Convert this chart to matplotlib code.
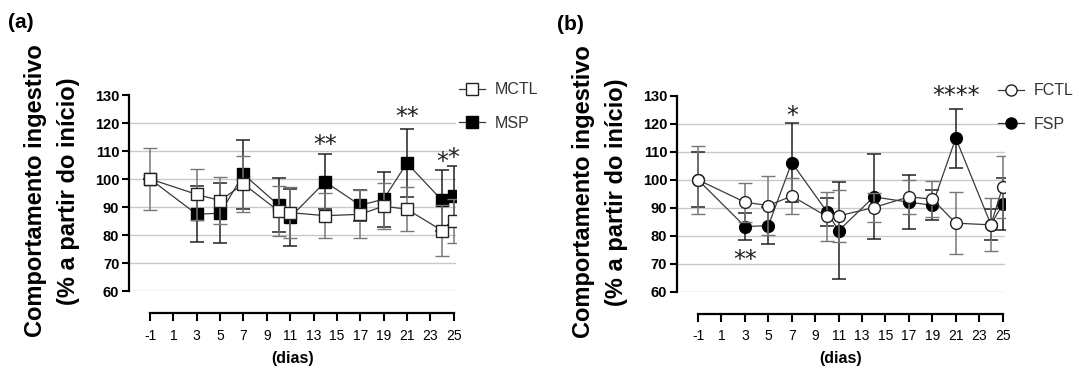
import matplotlib
matplotlib.use("Agg")
import matplotlib.pyplot as plt
from matplotlib.lines import Line2D

plt.rcParams["font.family"] = ["Liberation Sans", "DejaVu Sans"]

# dias de medição
dias = [-1, 3, 5, 7, 10, 11, 14, 17, 19, 21, 24, 25]

# (a) machos
mctl = [100, 94.5, 92.3, 98.2, 88.6, 88.0, 86.9, 87.4, 90.3, 89.2, 81.6, 85.0]
mctl_err = [11.0, 9.2, 8.5, 10.0, 9.0, 9.0, 8.0, 8.6, 8.3, 7.8, 9.0, 8.0]
msp = [100, 87.4, 87.8, 101.7, 90.7, 86.3, 99.0, 90.6, 92.8, 105.7, 92.4, 94.0]
msp_err = [0, 10.0, 10.7, 12.4, 9.5, 10.1, 9.8, 5.5, 9.8, 12.2, 10.9, 10.5]

# (b) fêmeas
fctl = [100, 92.0, 90.8, 94.2, 86.9, 87.1, 90.1, 93.9, 93.1, 84.5, 83.9, 97.4]
fctl_err = [12.2, 7.0, 10.7, 6.5, 8.7, 9.2, 5.2, 6.2, 6.5, 11.0, 9.5, 11.2]
fsp = [100, 83.3, 83.6, 106.2, 88.6, 81.8, 93.9, 92.0, 90.9, 114.9, 84.0, 91.2]
fsp_err = [9.8, 5.0, 6.6, 14.0, 5.0, 17.3, 15.2, 9.6, 5.3, 10.6, 5.6, 9.3]

# asteriscos de significância (x, y, texto)
stars_a = [(14, 112.0, "**"), (21, 122.0, "**"), (24, 106.0, "*"), (25, 107.5, "*")]
stars_b = [(3, 71.5, "**"), (7, 123.0, "*"), (21, 130.0, "****")]

yticks = [60, 70, 80, 90, 100, 110, 120, 130]
xticks = list(range(-1, 26, 2))

GRID = "#c9c9c9"


def draw_panel(ax, ctl, ctl_err, sp, sp_err, labels, marker, stars, leg_x):
    for y in yticks[:-1]:
        ax.axhline(y, color=GRID, lw=1.0, zorder=0)

    ax.errorbar(dias, sp, yerr=sp_err, fmt="-", marker=marker, ms=8.5,
                color="#3a3a3a", lw=0.9, mfc="black", mec="black",
                ecolor="#222222", elinewidth=1.1, capsize=5, capthick=1.1,
                zorder=2, label=labels[1])
    ax.errorbar(dias, ctl, yerr=ctl_err, fmt="-", marker=marker, ms=8.5,
                color="#3a3a3a", lw=0.9, mfc="white", mec="#222222", mew=1.0,
                ecolor="#777777", elinewidth=1.1, capsize=5, capthick=1.1,
                zorder=3, label=labels[0])

    for x, y, s in stars:
        ax.text(x, y, s, ha="center", va="center", fontsize=17,
                family="DejaVu Sans", color="#222222")

    ax.set_xlim(-2.8, 25.2)
    ax.set_ylim(60, 130)
    ax.set_yticks(yticks)
    ax.set_xticks(xticks)
    ax.set_xticklabels([str(t) for t in xticks], fontweight="bold", fontsize=10.5)
    ax.set_yticklabels([str(t) for t in yticks], fontweight="bold", fontsize=10.5)

    for s in ("top", "right"):
        ax.spines[s].set_visible(False)
    ax.spines["left"].set_linewidth(1.6)
    ax.spines["bottom"].set_linewidth(1.6)
    ax.spines["left"].set_bounds(60, 130)
    ax.spines["bottom"].set_bounds(-1, 25)
    ax.spines["bottom"].set_position(("outward", 16))
    ax.tick_params(axis="y", width=1.5, length=5, pad=2)
    ax.tick_params(axis="x", width=1.5, length=6, pad=5)

    ax.set_xlabel("(dias)", fontweight="bold", fontsize=11.5, labelpad=6)
    ax.set_ylabel("Comportamento ingestivo\n(% a partir do início)",
                  fontweight="bold", fontsize=17, linespacing=1.55)
    ax.yaxis.set_label_coords(-0.15, 0.51)

    h = [Line2D([], [], color="#3a3a3a", lw=0.9, marker=marker, ms=8,
                mfc="white", mec="#222222"),
         Line2D([], [], color="#3a3a3a", lw=0.9, marker=marker, ms=8,
                mfc="black", mec="black")]
    ax.legend(h, labels, loc="upper left", bbox_to_anchor=(leg_x, 1.065),
              frameon=False, fontsize=11.5, handlelength=1.6, handletextpad=0.6,
              labelspacing=1.15, labelcolor="#333333", borderaxespad=0,
              borderpad=0)


fig = plt.figure(figsize=(10.79, 3.72), dpi=100)
ax_a = fig.add_axes([0.1196, 0.2177, 0.303, 0.5269])
ax_b = fig.add_axes([0.6274, 0.2160, 0.304, 0.5260])

draw_panel(ax_a, mctl, mctl_err, msp, msp_err, ["MCTL", "MSP"], "s", stars_a, 1.01)
draw_panel(ax_b, fctl, fctl_err, fsp, fsp_err, ["FCTL", "FSP"], "o", stars_b, 0.98)

fig.text(8 / 1079, 1 - 23 / 372, "(a)", fontsize=15, fontweight="bold",
         ha="left", va="center")
fig.text(557 / 1079, 1 - 24 / 372, "(b)", fontsize=15, fontweight="bold",
         ha="left", va="center")

fig.savefig("out.png", dpi=100)
